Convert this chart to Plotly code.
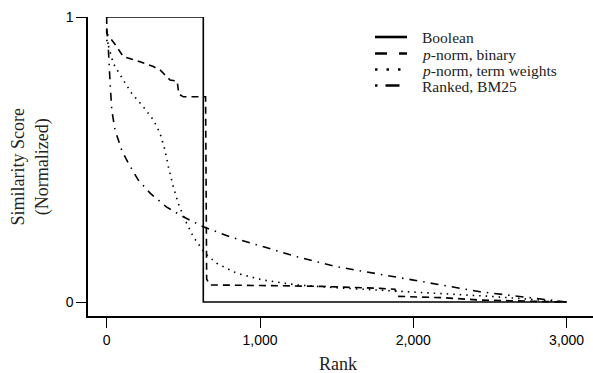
import plotly.graph_objects as go

# Boolean
bool_x = [0, 630, 630, 3000]
bool_y = [1.0, 1.0, 0.0, 0.0]

# p-norm, binary
pb_x = [0, 0, 60, 108, 217, 304, 348, 413, 460, 470, 500, 630, 645, 652, 674, 1000, 1400, 1783, 1880, 1900, 2200, 2435, 2700, 3000]
pb_y = [1.0, 0.943, 0.90, 0.861, 0.843, 0.826, 0.814, 0.779, 0.775, 0.73, 0.72, 0.72, 0.72, 0.08, 0.06, 0.058, 0.055, 0.048, 0.045, 0.02, 0.015, 0.007, 0.004, 0.0]

# p-norm, term weights
pt_x = [0, 43, 108, 163, 239, 304, 348, 380, 402, 434, 467, 511, 565, 609, 641, 717, 848, 1021, 1239, 1500, 1783, 2000, 2500, 3000]
pt_y = [0.92, 0.837, 0.779, 0.732, 0.685, 0.639, 0.592, 0.533, 0.475, 0.405, 0.346, 0.288, 0.229, 0.194, 0.171, 0.136, 0.101, 0.077, 0.06, 0.05, 0.042, 0.035, 0.02, 0.0]

# Ranked, BM25
bm_x = [0, 10, 22, 33, 54, 98, 141, 206, 283, 389, 500, 630, 804, 1021, 1239, 1500, 2000, 2435, 3000]
bm_y = [0.96, 0.896, 0.77, 0.674, 0.604, 0.533, 0.487, 0.428, 0.382, 0.334, 0.299, 0.264, 0.229, 0.194, 0.159, 0.124, 0.077, 0.036, 0.0]

names = ["Boolean", "<i>p</i>-norm, binary", "<i>p</i>-norm, term weights", "Ranked, BM25"]
xs = [bool_x, pb_x, pt_x, bm_x]
ys = [bool_y, pb_y, pt_y, bm_y]
dashes = ["solid", "7px,5px", "1.5px,5px", "8px,6px,1.5px,6px"]
legend_dashes = ["solid", "12px,12px", "2.5px,9px", "2.5px,8px,14px,20px"]

x_ticks = [0, 1000, 2000, 3000]
x_labels = ["0", "1,000", "2,000", "3,000"]
y_ticks = [0, 1]
y_labels = ["0", "1"]

fig = go.Figure()
for x, y, d, n in zip(xs, ys, dashes, names):
    fig.add_trace(go.Scatter(x=x, y=y, mode="lines", showlegend=False, name=n,
                             line=dict(color="black", width=1.6, dash=d),
                             cliponaxis=False))

serif = "Liberation Serif"
sans = "Liberation Sans"

# manual legend (compact row spacing like the reference)
PL, PT, PW, PH = 88, 17, 505, 299
def px2paper_x(px):
    return (px - PL) / PW
def px2paper_y(py):
    return (PT + PH - py) / PH

legend_rows = [37, 53.5, 69.5, 85.5]
shapes = []
annotations = []
for n, d, ry in zip(names, legend_dashes, legend_rows):
    shapes.append(dict(type="line", xref="paper", yref="paper",
                       x0=px2paper_x(375), x1=px2paper_x(407),
                       y0=px2paper_y(ry), y1=px2paper_y(ry),
                       line=dict(color="black", width=2.6, dash=d)))
    annotations.append(dict(text=n, xref="paper", yref="paper",
                            x=px2paper_x(420), y=px2paper_y(ry + 1),
                            xanchor="left", yanchor="middle", showarrow=False,
                            font=dict(family=serif, size=15.5, color="#222")))

annotations += [
    dict(text="Rank", xref="paper", yref="paper", x=0.495, y=-0.16,
         xanchor="center", yanchor="middle", showarrow=False,
         font=dict(family=serif, size=18, color="#222")),
    dict(text="Similarity Score<br>(Normalized)", xref="paper", yref="paper",
         x=-0.115, y=0.50, xanchor="center", yanchor="middle", showarrow=False,
         textangle=-90, font=dict(family=serif, size=18, color="#222")),
]

fig.update_layout(
    width=593, height=373,
    margin=dict(l=88, r=0, t=17, b=57, autoexpand=False),
    paper_bgcolor="white", plot_bgcolor="white",
    font=dict(family=sans, size=14, color="black"),
    showlegend=False,
    xaxis=dict(range=[-122, 3172], tickvals=x_ticks, ticktext=x_labels, automargin=False,
               showgrid=False, zeroline=False, showline=True, linecolor="black", linewidth=1.5,
               ticks="outside", ticklen=10, tickwidth=1.2, tickcolor="black"),
    yaxis=dict(range=[-0.049, 1.0], tickvals=y_ticks, ticktext=y_labels, automargin=False,
               showgrid=False, zeroline=False, showline=True, linecolor="black", linewidth=1.5,
               ticks="outside", ticklen=10, tickwidth=1.2, tickcolor="black"),
    shapes=shapes,
    annotations=annotations,
)
fig.write_html("out.html", config={"displayModeBar": False},
               post_script="document.body.style.margin='0';document.body.style.overflow='hidden';")
